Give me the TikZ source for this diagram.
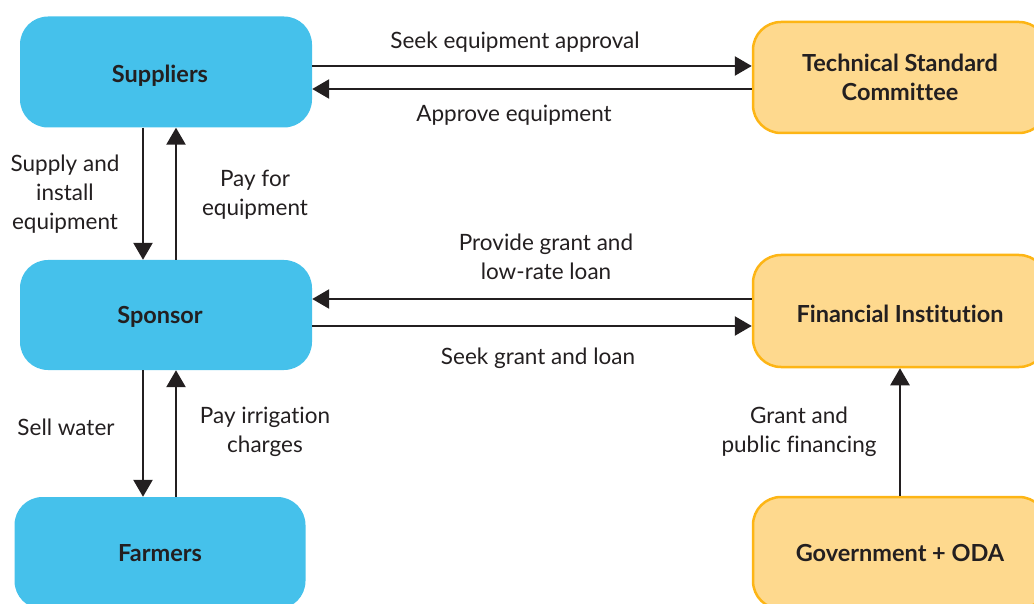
\documentclass[tikz,border=0pt]{standalone}
\usepackage{fontspec}
\setmainfont{Lato}[Ligatures={NoCommon}]
\usetikzlibrary{arrows.meta}
\definecolor{bluebox}{HTML}{45C1EB}
\definecolor{orfill}{HTML}{FED98E}
\definecolor{ordraw}{HTML}{FDB515}
\definecolor{ink}{HTML}{231F20}
\tikzset{
  bbox/.style={rectangle, rounded corners=28pt, fill=bluebox, draw=none, text=ink,
    font=\fontsize{23.5}{28}\selectfont\bfseries, align=center, inner sep=0pt},
  obox/.style={rectangle, rounded corners=28pt, fill=orfill, draw=ordraw, line width=2.5pt, text=ink,
    font=\fontsize{23.5}{29}\selectfont\bfseries, align=center, inner sep=0pt},
  arr/.style={draw=ink, line width=2.5pt, -{Triangle[length=17pt,width=19pt]}},
  lbl/.style={text=ink, font=\fontsize{22.5}{29}\selectfont, align=center, inner sep=0pt}
}
\begin{document}
\begin{tikzpicture}[x=1pt,y=-1pt]
\useasboundingbox (0,0) rectangle (1034,604);
\begin{scope}
\clip (0,0) rectangle (1034,604);
\node[bbox, minimum width=292pt, minimum height=111pt] (sup) at (166,72) {\raisebox{-4pt}[\height][\depth]{Suppliers}\hspace*{12pt}};
\node[bbox, minimum width=292pt, minimum height=110pt] (spo) at (166,315) {\raisebox{-2pt}[\height][\depth]{Sponsor}\hspace*{12pt}};
\node[bbox, minimum width=291pt, minimum height=112pt] (far) at (160,553) {Farmers};
\node[obox, minimum width=294pt, minimum height=111pt] (tsc) at (900,77.5) {Technical Standard\\Committee};
\node[obox, minimum width=294pt, minimum height=112pt] (fin) at (900,311) {\raisebox{-3pt}[\height][\depth]{Financial Institution}};
\node[obox, minimum width=294pt, minimum height=112pt] (gov) at (900,553) {Government + ODA};
\end{scope}
% Suppliers <-> TSC
\coordinate (a1) at ([yshift=11.5pt]tsc.west);
\coordinate (a2) at ([yshift=-11.5pt]tsc.west);
\draw[arr] (sup.east |- a1) -- (a1);
\draw[arr] (a2) -- (sup.east |- a2);
% Sponsor <-> FI
\coordinate (b1) at ([yshift=12pt]fin.west);
\coordinate (b2) at ([yshift=-15pt]fin.west);
\draw[arr] (b1) -- (spo.east |- b1);
\draw[arr] (spo.east |- b2) -- (b2);
% Suppliers <-> Sponsor
\coordinate (c1) at ([xshift=-23pt]sup.south);
\coordinate (c2) at ([xshift=10pt]sup.south);
\draw[arr] (c1) -- (c1 |- spo.north);
\draw[arr] (c2 |- spo.north) -- (c2);
% Sponsor <-> Farmers
\coordinate (d1) at ([xshift=-23pt]spo.south);
\coordinate (d2) at ([xshift=10pt]spo.south);
\draw[arr] (d1) -- (d1 |- far.north);
\draw[arr] (d2 |- far.north) -- (d2);
% Gov -> FI
\draw[arr] (gov.north) -- (fin.south);
% labels
\node[lbl] (l1) at (515,42) {Seek equipment approval};
\node[lbl] (l2) at (514,115) {Approve equipment};
\node[lbl] (l3) at (65,194) {Supply and\\install\\equipment};
\node[lbl] (l4) at (255,195) {Pay for\\equipment};
\node[lbl] (l5) at (546,257) {Provide grant and\\low-rate loan};
\node[lbl] (l6) at (538,358) {Seek grant and loan};
\node[lbl] (l7) at (66,427) {Sell water};
\node[lbl] (l8) at (265,432) {Pay irrigation\\charges};
\node[lbl] (l9) at (799,432) {Grant and\\public financing};
\end{tikzpicture}
\end{document}
